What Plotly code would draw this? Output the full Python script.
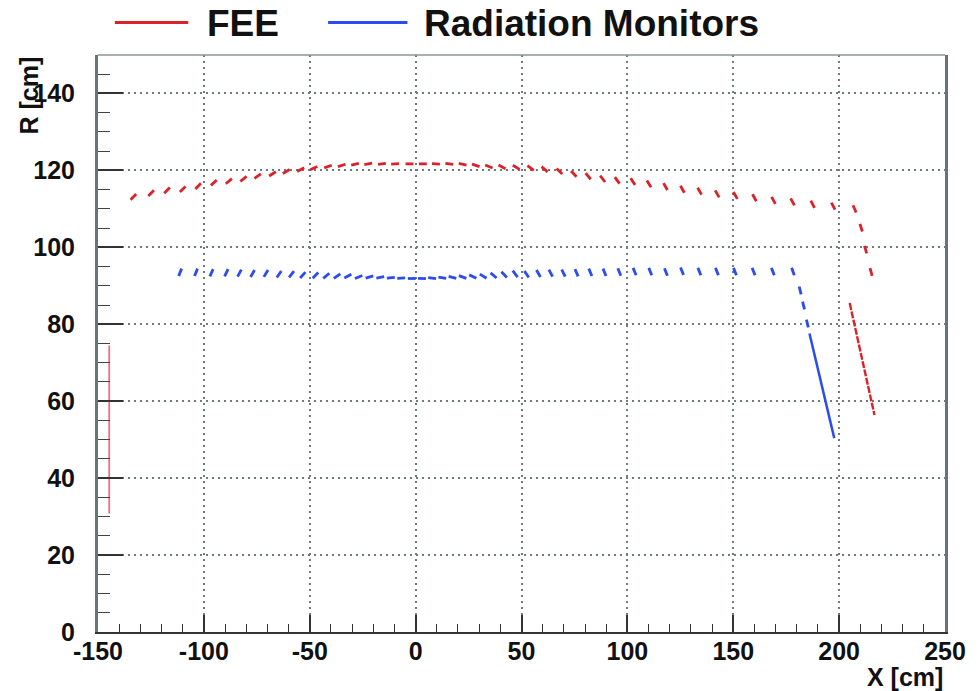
import math
import plotly.graph_objects as go

# ---------------- data ----------------
# FEE: short segments along the upper arc (centre x [cm], centre R [cm], tilt [deg])
fee_x = [-133.3, -124.9, -117.4, -110.0, -102.7, -95.3, -88.2, -81.3, -74.6, -67.6,
         -61.1, -54.3, -48.1, -41.4, -34.9, -28.6, -22.4, -15.9, -9.7, -2.9,
         3.4, 9.6, 15.9, 22.2, 28.4, 34.6, 40.8, 47.5, 54.3, 60.9,
         67.9, 74.7, 81.5, 88.3, 95.2, 102.6, 110.2, 118.0, 126.0, 134.1,
         142.4, 151.0, 160.0, 169.0, 178.0, 187.5, 197.2, 207.3,
         210.4, 212.5, 215.1]
fee_r = [113.1, 114.1, 114.8, 115.1, 115.9, 116.8, 117.2, 117.8, 118.5, 119.1,
         119.7, 120.2, 120.6, 121.0, 121.3, 121.6, 121.7, 121.7, 121.7, 121.7,
         121.7, 121.7, 121.7, 121.6, 121.3, 121.0, 120.9, 120.8, 120.6, 120.3,
         119.8, 119.1, 118.5, 117.8, 117.4, 117.1, 116.5, 115.8, 115.1, 114.6,
         113.9, 113.5, 112.9, 112.2, 111.8, 111.2, 110.7, 110.0,
         105.1, 99.4, 93.6]
fee_tilt = [45, 45, 45, 45, 45, 42, 40, 38, 35, 32,
            30, 27, 24, 20, 17, 13, 10, 7, 3, 0,
            0, -3, -7, -12, -18, -22, -27, -32, -36, -40,
            -44, -47, -50, -52, -54, -56, -58, -60, -60, -60,
            -60, -60, -61, -61, -62, -62, -62, -66,
            -72, -74, -74]
# FEE: continuous pieces (x [cm], R [cm])
fee_line_x = [205.0, 216.7]
fee_line_r = [85.5, 56.4]
fee_vert_x = [-144.7, -144.7]
fee_vert_r = [30.8, 74.5]

# Radiation monitors: short segments
rm_x = [-111.2, -103.7, -96.4, -89.4, -83.2, -77.0, -70.7, -64.5, -58.6, -53.3,
        -47.3, -42.2, -37.1, -32.0, -26.9, -21.8, -16.7, -11.7, -6.8, -1.8,
        3.0, 7.8, 12.6, 17.4, 22.2, 27.0, 31.9, 36.8, 41.8, 47.0,
        52.4, 58.0, 63.8, 69.8, 76.0, 82.5, 89.2, 96.2, 103.4, 110.8,
        118.2, 125.8, 134.0, 142.3, 150.8, 159.6, 168.7, 178.2,
        181.6, 183.2, 185.0]
rm_r = [93.5, 93.5, 93.4, 93.4, 93.3, 93.2, 93.2, 93.0, 93.0, 92.8,
        92.7, 92.6, 92.5, 92.5, 92.3, 92.3, 92.2, 92.1, 92.0, 91.9,
        91.9, 92.0, 92.1, 92.2, 92.3, 92.4, 92.5, 92.7, 92.9, 93.1,
        93.0, 93.2, 93.3, 93.3, 93.4, 93.5, 93.5, 93.6, 93.7, 93.7,
        93.6, 93.8, 93.7, 93.7, 93.7, 93.7, 93.7, 93.7,
        88.8, 84.9, 80.2]
rm_tilt = [68, 68, 66, 64, 62, 60, 58, 55, 52, 48,
           45, 40, 35, 28, 22, 16, 10, 6, 3, 0,
           -3, -6, -10, -15, -20, -25, -32, -40, -46, -52,
           -56, -60, -62, -64, -66, -67, -68, -68, -68, -68,
           -68, -68, -68, -68, -68, -68, -68, -70,
           -76, -76, -76]
rm_line_x = [186.0, 197.7]
rm_line_r = [77.6, 50.4]

x_ticks = [-150, -100, -50, 0, 50, 100, 150, 200, 250]
r_ticks = [0, 20, 40, 60, 80, 100, 120, 140]
legend_names = ["FEE", "Radiation Monitors"]

# ---------------- layout geometry ----------------
W, H = 978, 691
ML, MR, MT, MB = 98, 26, 55, 59
PW, PH = W - ML - MR, H - MT - MB
XR = [-150, 250]
YR = [0, 150]
sx = PW / (XR[1] - XR[0])   # px per cm
sy = PH / (YR[1] - YR[0])

RED = "#dc2229"
BLUE = "#2b4cf0"
SEG_HALF = 4.0  # px


def segments(xs, rs, tilts):
    X, Y = [], []
    for x, r, t in zip(xs, rs, tilts):
        a = math.radians(t)
        dx = SEG_HALF * math.cos(a) / sx
        dy = SEG_HALF * math.sin(a) / sy
        X += [x - dx, x + dx, None]
        Y += [r - dy, r + dy, None]
    return X, Y


fig = go.Figure()
fx, fy = segments(fee_x, fee_r, fee_tilt)
fig.add_trace(go.Scatter(x=fx, y=fy, mode="lines", line=dict(color=RED, width=2.8),
                         showlegend=False, hoverinfo="skip"))
fig.add_trace(go.Scatter(x=fee_line_x, y=fee_line_r, mode="lines",
                         line=dict(color=RED, width=2.4, dash="7px,1.5px"),
                         showlegend=False, hoverinfo="skip"))
fig.add_trace(go.Scatter(x=fee_vert_x, y=fee_vert_r, mode="lines",
                         line=dict(color="#ee7088", width=1.8),
                         showlegend=False, hoverinfo="skip"))
bx, by = segments(rm_x, rm_r, rm_tilt)
fig.add_trace(go.Scatter(x=bx, y=by, mode="lines", line=dict(color=BLUE, width=2.8),
                         showlegend=False, hoverinfo="skip"))
fig.add_trace(go.Scatter(x=rm_line_x, y=rm_line_r, mode="lines",
                         line=dict(color=BLUE, width=2.5),
                         showlegend=False, hoverinfo="skip"))

tickfont = dict(family="Liberation Sans, Arial, sans-serif", size=25, color="#111", weight="bold")

fig.update_layout(
    width=W, height=H,
    margin=dict(l=ML, r=MR, t=MT, b=MB),
    paper_bgcolor="white", plot_bgcolor="white",
    xaxis=dict(range=XR, tickvals=x_ticks, ticktext=[str(v) for v in x_ticks],
               showgrid=True, gridcolor="#6f7c7c", griddash="2px,4px", gridwidth=1.5,
               zeroline=False, showline=True, linecolor="#333", linewidth=2, mirror=False,
               ticks="inside", ticklen=17, tickwidth=1.6, tickcolor="#333",
               minor=dict(dtick=10, ticks="inside", ticklen=8, tickwidth=1.4, tickcolor="#333",
                          showgrid=False),
               tickfont=tickfont, ticklabelstandoff=-4, fixedrange=True),
    yaxis=dict(range=YR, tickvals=r_ticks, ticktext=[str(v) for v in r_ticks],
               showgrid=True, gridcolor="#6f7c7c", griddash="2px,4px", gridwidth=1.5,
               zeroline=False, showline=True, linecolor="#667676", linewidth=3, mirror=True,
               ticks="inside", ticklen=25, tickwidth=1.6, tickcolor="#333",
               minor=dict(dtick=5, ticks="inside", ticklen=12, tickwidth=1.4, tickcolor="#444",
                          showgrid=False),
               tickfont=tickfont, ticklabelstandoff=15, fixedrange=True),
)

# top frame line
fig.add_shape(type="line", xref="paper", yref="paper", x0=0, x1=1, y0=1, y1=1,
              line=dict(color="#8a9494", width=1.5))

# axis titles
fig.add_annotation(text="X [cm]", xref="paper", yref="paper", x=1.0, y=-(677 - (MT + PH)) / PH,
                   xanchor="right", yanchor="middle", showarrow=False,
                   font=dict(family="Liberation Sans, Arial, sans-serif", size=25, color="#111",
                             weight="bold"))
fig.add_annotation(text="R [cm]", xref="paper", yref="paper", x=(28 - ML) / PW, y=1.0,
                   xanchor="center", yanchor="top", textangle=-90, showarrow=False,
                   font=dict(family="Liberation Sans, Arial, sans-serif", size=25, color="#111",
                             weight="bold"))


# legend (drawn manually)
def px2paper(px, py):
    return (px - ML) / PW, (MT + PH - py) / PH


leg_items = [(legend_names[0], RED, 115, 189, 206), (legend_names[1], BLUE, 330, 410, 425)]
for name, col, l0, l1, tx in leg_items:
    a0, yy = px2paper(l0, 22.5)
    a1, _ = px2paper(l1, 22.5)
    fig.add_shape(type="line", xref="paper", yref="paper", x0=a0, x1=a1, y0=yy, y1=yy,
                  line=dict(color=col, width=3))
    tx_p, ty_p = px2paper(tx, 23.5)
    fig.add_annotation(text=name, xref="paper", yref="paper", x=tx_p, y=ty_p,
                       xanchor="left", yanchor="middle", showarrow=False,
                       font=dict(family="Liberation Sans, Arial, sans-serif", size=37,
                                 color="#111", weight="bold"))

fig.write_html("out.html")
